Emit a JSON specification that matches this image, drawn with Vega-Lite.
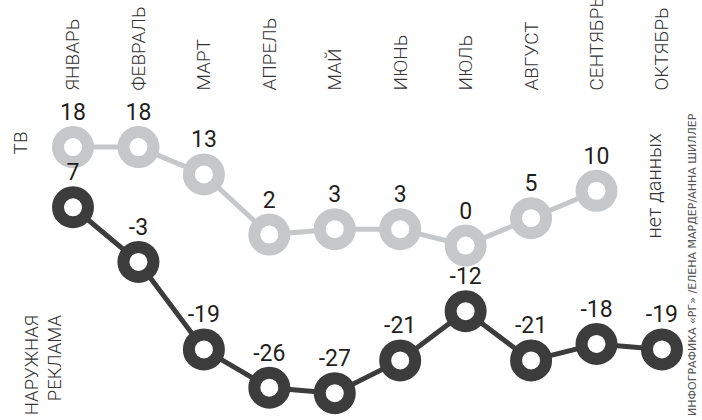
{
  "$schema": "https://vega.github.io/schema/vega-lite/v6.json",
  "width": 702,
  "height": 420,
  "autosize": {"type": "none"},
  "padding": 0,
  "background": "white",
  "config": {"view": {"stroke": null}},
  "data": {
    "values": [
      {"m": 1, "month": "ЯНВАРЬ", "series": "ТВ", "value": 18},
      {"m": 2, "month": "ФЕВРАЛЬ", "series": "ТВ", "value": 18},
      {"m": 3, "month": "МАРТ", "series": "ТВ", "value": 13},
      {"m": 4, "month": "АПРЕЛЬ", "series": "ТВ", "value": 2},
      {"m": 5, "month": "МАЙ", "series": "ТВ", "value": 3},
      {"m": 6, "month": "ИЮНЬ", "series": "ТВ", "value": 3},
      {"m": 7, "month": "ИЮЛЬ", "series": "ТВ", "value": 0},
      {"m": 8, "month": "АВГУСТ", "series": "ТВ", "value": 5},
      {"m": 9, "month": "СЕНТЯБРЬ", "series": "ТВ", "value": 10},
      {"m": 1, "month": "ЯНВАРЬ", "series": "Наружная реклама", "value": 7},
      {"m": 2, "month": "ФЕВРАЛЬ", "series": "Наружная реклама", "value": -3},
      {"m": 3, "month": "МАРТ", "series": "Наружная реклама", "value": -19},
      {"m": 4, "month": "АПРЕЛЬ", "series": "Наружная реклама", "value": -26},
      {"m": 5, "month": "МАЙ", "series": "Наружная реклама", "value": -27},
      {"m": 6, "month": "ИЮНЬ", "series": "Наружная реклама", "value": -21},
      {"m": 7, "month": "ИЮЛЬ", "series": "Наружная реклама", "value": -12},
      {"m": 8, "month": "АВГУСТ", "series": "Наружная реклама", "value": -21},
      {"m": 9, "month": "СЕНТЯБРЬ", "series": "Наружная реклама", "value": -18},
      {"m": 10, "month": "ОКТЯБРЬ", "series": "Наружная реклама", "value": -19}
    ]
  },
  "encoding": {
    "x": {
      "field": "m",
      "type": "quantitative",
      "scale": {"domain": [-0.1155, 10.612], "nice": false, "zero": false},
      "axis": {
        "orient": "top",
        "offset": -90,
        "values": [1, 2, 3, 4, 5, 6, 7, 8, 9, 10],
        "labelExpr": "['ЯНВАРЬ','ФЕВРАЛЬ','МАРТ','АПРЕЛЬ','МАЙ','ИЮНЬ','ИЮЛЬ','АВГУСТ','СЕНТЯБРЬ','ОКТЯБРЬ'][datum.value - 1]",
        "labelAngle": 270,
        "labelAlign": "left",
        "labelBaseline": "middle",
        "labelPadding": 0,
        "ticks": false,
        "tickSize": 0,
        "domain": false,
        "grid": false,
        "labelFlush": false,
        "labelOverlap": false,
        "labelBound": false,
        "labelFont": "Roboto",
        "labelFontWeight": 300,
        "labelFontSize": 19,
        "labelColor": "#333333",
        "title": null
      }
    },
    "y": {
      "field": "value",
      "type": "quantitative",
      "scale": {"domain": [-31.9, 44.9], "nice": false, "zero": false},
      "axis": null
    }
  },
  "layer": [
    {
      "mark": {"type": "line", "strokeWidth": 5},
      "encoding": {
        "detail": {"field": "series"},
        "order": {"field": "m"},
        "color": {"field": "series", "type": "nominal", "scale": {"domain": ["ТВ", "Наружная реклама"], "range": ["#c6c7c9", "#3c3c3c"]}, "legend": null}
      }
    },
    {
      "mark": {"type": "point", "shape": "circle", "size": 900, "fill": "white", "strokeWidth": 12, "opacity": 1},
      "encoding": {"stroke": {"field": "series", "type": "nominal", "scale": {"domain": ["ТВ", "Наружная реклама"], "range": ["#c6c7c9", "#3c3c3c"]}, "legend": null}}
    },
    {
      "mark": {"type": "text", "font": "Roboto", "fontWeight": 400, "fontSize": 23, "dy": -34, "align": "center", "baseline": "middle", "color": "#231f20"},
      "encoding": {"text": {"field": "value", "type": "nominal"}}
    },
    {
      "transform": [{"filter": "datum.m == 1 && datum.series == 'ТВ'"}],
      "mark": {"type": "text", "font": "Roboto", "fontWeight": 300, "fontSize": 19, "angle": 270, "align": "center", "baseline": "middle", "color": "#333333", "text": "ТВ"},
      "encoding": {"x": {"datum": 0.205}, "y": {"datum": 18.76}}
    },
    {
      "transform": [{"filter": "datum.m == 1 && datum.series == 'ТВ'"}],
      "mark": {"type": "text", "font": "Roboto", "fontWeight": 300, "fontSize": 18.5, "angle": 270, "align": "right", "baseline": "middle", "lineHeight": 23, "color": "#333333", "text": ["НАРУЖНАЯ", "РЕКЛАМА"]},
      "encoding": {"x": {"datum": 0.381}, "y": {"datum": -12.69}}
    },
    {
      "transform": [{"filter": "datum.m == 1 && datum.series == 'ТВ'"}],
      "mark": {"type": "text", "font": "Roboto", "fontWeight": 300, "fontSize": 20, "angle": 270, "align": "center", "baseline": "middle", "color": "#333333", "text": "нет данных"},
      "encoding": {"x": {"datum": 9.894}, "y": {"datum": 10.9}}
    },
    {
      "transform": [{"filter": "datum.m == 1 && datum.series == 'ТВ'"}],
      "mark": {"type": "text", "font": "DejaVu Sans", "fontSize": 11, "angle": 270, "align": "left", "baseline": "middle", "color": "#555555", "text": "ИНФОГРАФИКА «РГ» /ЕЛЕНА МАРДЕР/АННА ШИЛЛЕР"},
      "encoding": {"x": {"datum": 10.474}, "y": {"datum": -31.15}}
    }
  ]
}
